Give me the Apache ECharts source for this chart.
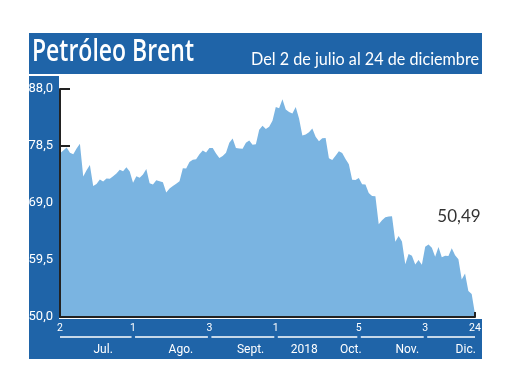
<!DOCTYPE html>
<html>
<head>
<meta charset="utf-8">
<script src="https://cdn.jsdelivr.net/npm/echarts@6/dist/echarts.min.js"></script>
<style>
html,body{margin:0;padding:0;background:#fff;}
#c{width:520px;height:390px;}
</style>
</head>
<body>
<div id="c"></div>
<script>
// Brent daily prices (USD/barrel), trading days 2 Jul - 24 Dec 2018
const julio = [77.30,77.76,78.24,77.39,77.11,78.07,78.86,73.40,74.45,75.33,71.84,72.16,72.90,72.58,73.07,73.06,73.44,73.93,74.54,74.29,74.97,74.25];
const agosto = [72.39,73.45,73.21,73.75,74.65,72.28,72.07,72.81,72.61,72.46,70.76,71.43,71.83,72.21,72.63,74.78,74.73,75.82,76.21,76.31,77.14,77.77,77.42];
const septiembre = [78.15,78.17,77.27,76.50,76.83,77.37,79.06,79.74,78.18,78.09,78.05,79.03,79.40,78.70,78.80,81.20,81.87,81.34,81.72,82.72];
const octubre = [84.98,84.80,86.29,84.58,84.16,83.91,85.00,83.09,80.26,80.43,80.78,81.41,80.05,79.29,79.78,79.83,76.44,76.17,76.89,77.62,77.34,76.34,75.47];
const noviembre = [72.89,72.83,73.17,72.13,72.07,70.65,70.18,70.12,65.47,66.12,66.62,66.76,66.79,62.53,63.48,62.60,58.80,60.48,60.21,58.76,59.51,58.71];
const diciembre = [61.69,62.08,61.56,60.06,61.67,59.97,60.20,60.15,61.45,60.28,59.61,56.26,57.24,54.35,53.82,50.49];

const yTicks = [50, 59.5, 69, 78.5, 88];
const xTickPos = [0, 22, 45, 65, 90, 110, 125];      // trading-day index of labelled dates
const xTickLabels = ['2', '1', '3', '1', '5', '3', '24'];
const monthPos = [13, 36.4, 57.4, 73.6, 87.6, 104.6, 122.2];
const monthLabels = ['Jul.', 'Ago.', 'Sept.', '2018', 'Oct.', 'Nov.', 'Dic.'];

const title = 'Petróleo Brent';
const subtitle = 'Del 2 de julio al 24 de diciembre';

const values = [].concat(julio, agosto, septiembre, octubre, noviembre, diciembre);
const data = values.map((v, i) => [i, v]);
const lastIdx = values.length - 1;
const lastVal = values[lastIdx];
const fmt = (v, d) => v.toFixed(d).replace('.', ',');

const BLUE = '#1f64a8';
const FILL = '#7ab4e1';

const chart = echarts.init(document.getElementById('c'), null, {renderer: 'canvas'});

const option = {
  animation: false,
  backgroundColor: '#fff',
  grid: {left: 60, right: 45, top: 89, bottom: 73},
  xAxis: [
    {
      type: 'value', min: 0, max: lastIdx, z: 5,
      axisLine: {show: true, onZero: false, lineStyle: {color: '#222', width: 2}},
      axisTick: {show: true, inside: true, length: 5, customValues: [lastIdx], lineStyle: {color: '#222', width: 2}},
      splitLine: {show: false},
      axisLabel: {
        customValues: xTickPos,
        formatter: v => xTickLabels[xTickPos.indexOf(v)],
        color: '#fff', fontFamily: 'Roboto', fontSize: 10.5, margin: 6
      }
    },
    {
      type: 'value', min: 0, max: lastIdx, position: 'bottom', z: 5,
      axisLine: {show: false}, axisTick: {show: false}, splitLine: {show: false},
      axisLabel: {
        customValues: monthPos,
        formatter: v => monthLabels[monthPos.indexOf(v)],
        color: '#fff', fontFamily: 'Roboto', fontSize: 12, margin: 27
      }
    }
  ],
  yAxis: [
    {
      type: 'value', min: 50, max: 88, z: 5,
      axisLine: {show: true, onZero: false, lineStyle: {color: '#222', width: 2}},
      axisTick: {show: false}, splitLine: {show: false},
      axisLabel: {
        customValues: yTicks,
        formatter: v => fmt(v, 1),
        color: '#fff', fontFamily: 'Roboto', fontSize: 13, margin: 7
      }
    },
    {
      type: 'value', min: 50, max: 88, position: 'left', z: 1,
      axisLine: {show: false}, splitLine: {show: false}, axisLabel: {show: false},
      axisTick: {show: true, inside: true, length: 10, customValues: yTicks, lineStyle: {color: '#222', width: 2}}
    }
  ],
  series: [{
    type: 'line', xAxisIndex: 0, yAxisIndex: 0, z: 2,
    data: data, showSymbol: false, symbol: 'none',
    lineStyle: {width: 0, color: FILL},
    areaStyle: {color: FILL, opacity: 1},
    markPoint: {
      symbol: 'circle', symbolSize: 0,
      data: [{coord: [lastIdx, lastVal]}],
      label: {
        show: true, position: 'inside', offset: [-16, -98],
        formatter: () => fmt(lastVal, 2),
        color: '#333', fontFamily: 'Lato', fontSize: 17
      }
    }
  }]
};
chart.setOption(option);

// text width helper for condensed header type
const cv = document.createElement('canvas').getContext('2d');
function scaleFor(text, font, target) { cv.font = font; return target / cv.measureText(text).width; }

const titleFont = '600 31px "Open Sans"';
const subFont = '17px Lato';
const px = i => chart.convertToPixel({xAxisIndex: 0}, i);
const yBase = chart.convertToPixel({yAxisIndex: 0}, 50);

const g = [
  {type: 'rect', z: 0, shape: {x: 29, y: 33, width: 453, height: 41}, style: {fill: BLUE}},
  {type: 'rect', z: 0, shape: {x: 29, y: 76, width: 30, height: 283}, style: {fill: BLUE}},
  {type: 'rect', z: 0, shape: {x: 29, y: 319, width: 453, height: 40}, style: {fill: BLUE}},
  {type: 'text', z: 10, x: 32, y: 52, scaleX: scaleFor(title, titleFont, 162),
   style: {text: title, x: 0, y: 0, fill: '#fff', font: titleFont, align: 'left', verticalAlign: 'middle'}},
  {type: 'text', z: 10, x: 479, y: 60, scaleX: scaleFor(subtitle, subFont, 228),
   style: {text: subtitle, x: 0, y: 0, fill: '#fff', font: subFont, align: 'right', verticalAlign: 'middle'}}
];
for (let k = 0; k < xTickPos.length - 1; k++) {
  const x1 = px(xTickPos[k]) + (k === 0 ? 0 : 2);
  const x2 = px(xTickPos[k + 1]) - (k === xTickPos.length - 2 ? 0 : 1.5);
  g.push({type: 'line', z: 10, shape: {x1: x1, y1: yBase + 20, x2: x2, y2: yBase + 20},
          style: {stroke: '#fff', lineWidth: 1.5}});
}
chart.setOption({graphic: g});
</script>
</body>
</html>
